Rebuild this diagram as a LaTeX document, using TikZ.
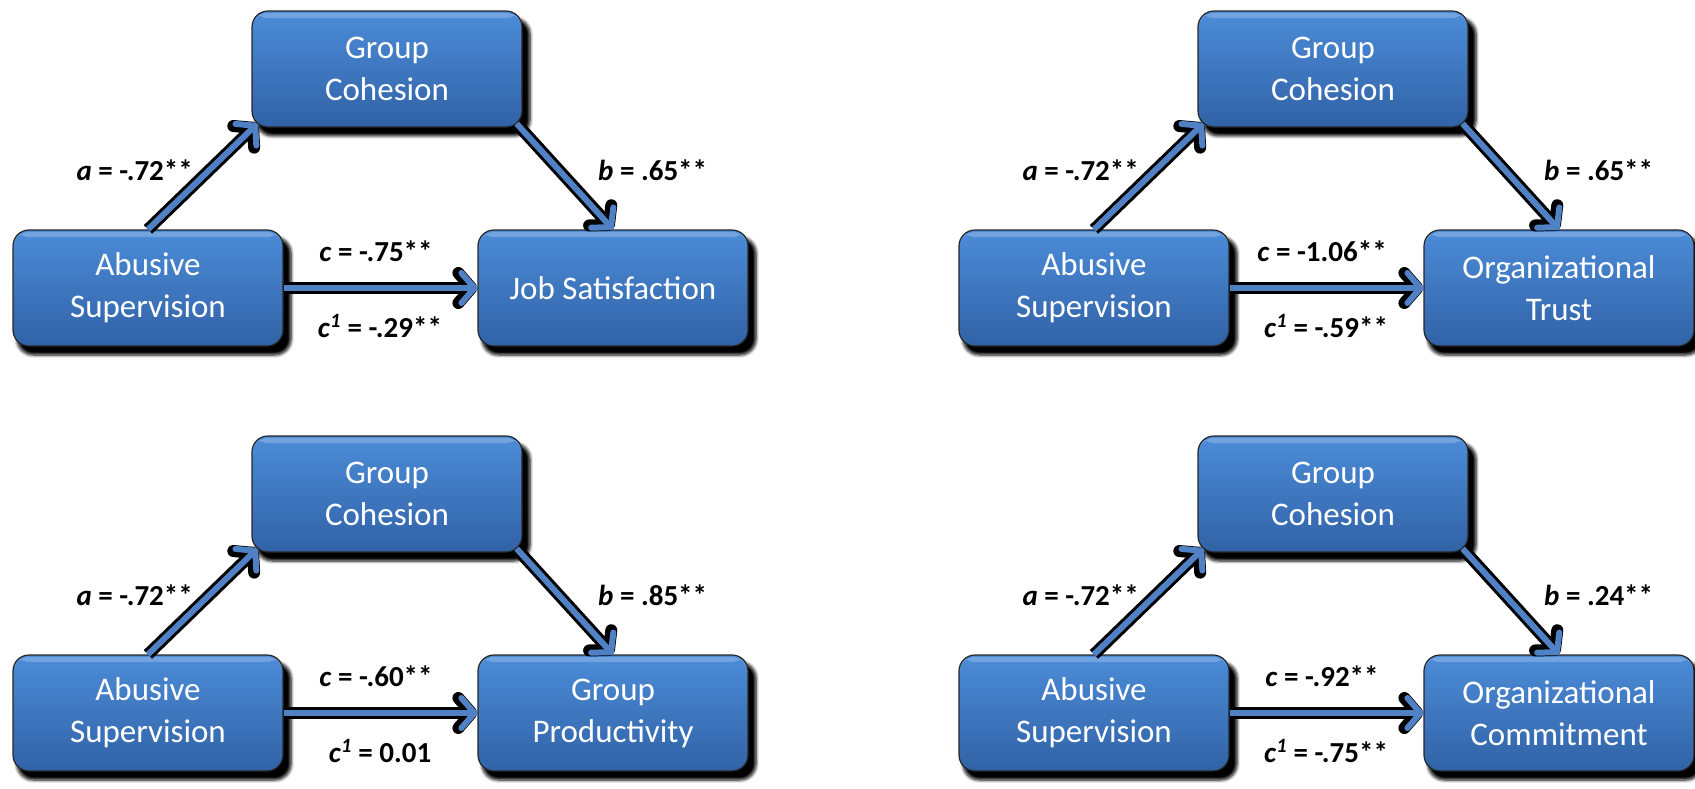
\documentclass[tikz,border=0pt]{standalone}
\usepackage{fontspec}
\setmainfont{Carlito}
\usetikzlibrary{arrows.meta,shadows.blur,calc}

\definecolor{boxtop}{HTML}{4C8CD8}
\definecolor{boxbot}{HTML}{3162A6}
\definecolor{linkblue}{HTML}{4F81C4}

\tikzset{
  x=1pt, y=-1pt,
  var/.style={rounded corners=16pt, minimum width=270pt, minimum height=116pt,
    top color=boxtop, bottom color=boxbot, draw=black!85, line width=1.2pt,
    text=white, align=center, inner sep=0pt,
    font=\fontsize{33}{42}\selectfont,
    path picture={\fill[white, opacity=0.22]
      ([yshift=-2pt]path picture bounding box.north west) rectangle
      ([yshift=-7pt]path picture bounding box.north east);},
    blur shadow={shadow xshift=6pt, shadow yshift=-8pt, shadow blur radius=3pt,
      shadow blur steps=6, shadow opacity=100, shadow scale=1.015}},
  lbl/.style={font=\fontsize{29}{34}\selectfont\bfseries, inner sep=0pt},
  linkshade/.style={draw=black, line width=12pt,
    -{Straight Barb[length=13pt,width=30pt,round]}, xshift=2pt, yshift=-2pt},
  linkmain/.style={draw=linkblue, line width=6pt,
    -{Straight Barb[length=13pt,width=30pt,round]}},
}

% one mediation triangle: id, shift, outcome, b, c, c-prime
\newcommand\medpanel[6]{%
  \begin{scope}[shift={#2}]
    \node[var] (as#1) at (148,288) {Abusive\\Supervision};
    \node[var] (gc#1) at (387,69) {Group\\Cohesion};
    \node[var] (out#1) at (613,288) {#3};
    \coordinate (aend#1) at ($(gc#1.south west)+(6,-4)$);
    \coordinate (bstart#1) at ($(gc#1.south east)+(-6,-4)$);
    \draw[linkshade] (as#1.north) -- (aend#1);
    \draw[linkmain] (as#1.north) -- (aend#1);
    \draw[linkshade] (bstart#1) -- (out#1.north);
    \draw[linkmain] (bstart#1) -- (out#1.north);
    \draw[linkshade] (as#1.east) -- (out#1.west);
    \draw[linkmain] (as#1.east) -- (out#1.west);
    \node[lbl, anchor=east] (la#1) at (193,170) {\textit{a} = -.72**};
    \node[lbl, anchor=west] (lb#1) at (598,170) {\textit{b} = #4};
    \node[lbl] (lc#1) at (376,251) {\textit{c} = #5};
    \node[lbl] (ld#1) at (380,326) {\textit{c}\textsuperscript{\textit{1}} = #6};
  \end{scope}}

\begin{document}
\begin{tikzpicture}
  \useasboundingbox (0,0) rectangle (1695,788);
  \medpanel{1}{(0,0)}{Job Satisfaction}{.65**}{-.75**}{-.29**}
  \medpanel{2}{(946,0)}{Organizational\\Trust}{.65**}{-1.06**}{-.59**}
  \medpanel{3}{(0,425)}{Group\\Productivity}{.85**}{-.60**}{0.01}
  \medpanel{4}{(946,425)}{Organizational\\Commitment}{.24**}{-.92**}{-.75**}
\end{tikzpicture}
\end{document}
